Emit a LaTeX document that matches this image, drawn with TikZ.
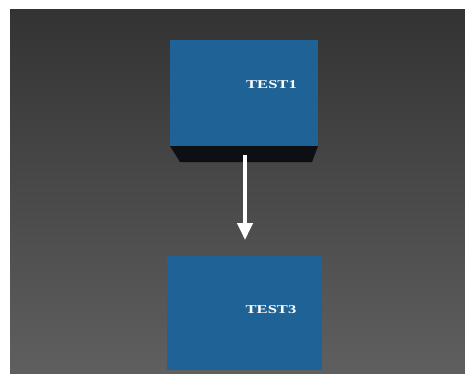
\documentclass[tikz,border=0pt]{standalone}
\usepackage{fontspec}
\setmainfont{Liberation Serif}
\usetikzlibrary{arrows.meta}
\definecolor{bgtop}{HTML}{333333}
\definecolor{bgbot}{HTML}{5F5F5F}
\definecolor{boxblue}{HTML}{1F6396}
\definecolor{basedark}{HTML}{0E0F14}
\tikzset{
  blockbox/.style={fill=boxblue, draw=none, inner sep=0pt, anchor=north west},
  blocklabel/.style={text=white, font=\bfseries\fontsize{12}{13}\selectfont, inner sep=0pt},
  flowarrow/.style={draw=white, line width=4pt, -{Triangle[width=15pt,length=17pt]}}
}
\begin{document}
\begin{tikzpicture}[x=1pt,y=-1pt]
\useasboundingbox (0,0) rectangle (465,376);
\fill[white] (0,0) rectangle (465,376);
\shade[top color=bgtop, bottom color=bgbot] (10,9) rectangle (465,373);
% box 1 with dark base
\fill[basedark] (170,146) -- (318,146) -- (312,162) -- (180,162) -- cycle;
\node[blockbox, minimum width=148pt, minimum height=106pt] (b1) at (170,40) {};
\node[blocklabel] (l1) at (271.5,84.5) {\scalebox{1.38}[1]{TEST1}};
% box 2
\node[blockbox, minimum width=155pt, minimum height=114pt] (b3) at (167,256) {};
\node[blocklabel] (l3) at (271,310) {\scalebox{1.38}[1]{TEST3}};
% connector
\draw[flowarrow, shorten <=9pt, shorten >=16pt] (b1.south -| 245,0) -- (b3.north -| 245,0);
\end{tikzpicture}
\end{document}
